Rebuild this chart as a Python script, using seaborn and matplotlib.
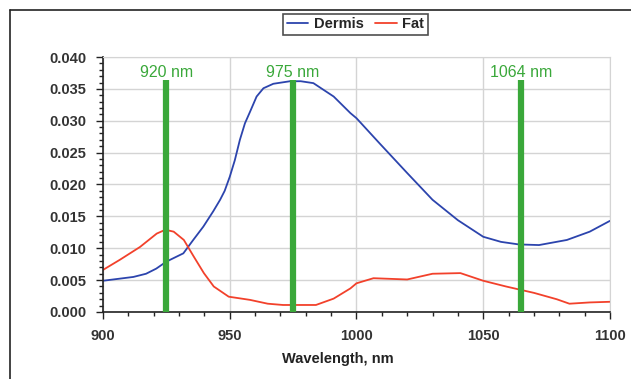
import numpy as np
import pandas as pd
import matplotlib
matplotlib.use('Agg')
import matplotlib.pyplot as plt
import seaborn as sns
from matplotlib.ticker import MultipleLocator, FormatStrFormatter
from matplotlib.lines import Line2D

# Dermis absorption curve
dermis_nm = [900, 906, 912, 917, 921, 925, 931.7, 935.6, 939.6, 943.5, 946.2, 948, 950, 952,
             954, 956, 958, 960.6, 963.3, 967.2, 973.8, 978, 983, 991, 997.6, 1000, 1009, 1020,
             1030, 1040, 1050, 1057, 1064, 1072, 1083, 1092, 1100]
dermis_val = [0.0049, 0.0052, 0.0055, 0.0060, 0.0068, 0.0079, 0.0092, 0.0113, 0.0134, 0.0158,
              0.0176, 0.0190, 0.0212, 0.0238, 0.0270, 0.0296, 0.0314, 0.0338, 0.0351, 0.0358,
              0.0362, 0.0362, 0.0359, 0.0338, 0.0312, 0.0304, 0.0265, 0.0218, 0.0176, 0.0144,
              0.0118, 0.0110, 0.0106, 0.0105, 0.0113, 0.0126, 0.0143]

# Fat absorption curve
fat_nm = [900, 906.7, 914.6, 921.2, 924.6, 927.9, 931.9, 935.8, 939.8, 943.7, 949.6, 958, 965,
          971, 978, 984, 991, 997.6, 1000, 1006.7, 1020, 1030, 1041, 1050, 1059, 1070, 1079,
          1084, 1092, 1100]
fat_val = [0.0066, 0.0082, 0.0102, 0.0123, 0.0129, 0.0126, 0.0113, 0.0087, 0.0061, 0.0040,
           0.0024, 0.0019, 0.0013, 0.0011, 0.0011, 0.0011, 0.0021, 0.0037, 0.0045, 0.0053,
           0.0051, 0.0060, 0.0061, 0.0049, 0.0040, 0.0030, 0.0020, 0.0013, 0.0015, 0.0016]

# laser wavelength markers
laser_pos = [925, 975, 1065]
laser_labels = ['920 nm', '975 nm', '1064 nm']
laser_top = 0.0364

df = pd.concat([
    pd.DataFrame({'Wavelength': dermis_nm, 'Value': dermis_val, 'Tissue': 'Dermis'}),
    pd.DataFrame({'Wavelength': fat_nm, 'Value': fat_val, 'Tissue': 'Fat'}),
])

blue = '#2c44ad'
red = '#f2412b'
green = '#3aa83a'

sns.set_style('white')
plt.rcParams['font.family'] = ['Liberation Sans', 'DejaVu Sans']

fig = plt.figure(figsize=(6.31, 3.79), dpi=100)
ax = fig.add_axes([0.1632, 0.1768, 0.8035, 0.6728])

ax.vlines(laser_pos, 0, laser_top, color=green, lw=4.5, zorder=3)
for xp, lab in zip(laser_pos, laser_labels):
    ax.text(xp, 0.0376, lab, color=green, fontsize=11.5, ha='center', va='center', zorder=4)

sns.lineplot(data=df, x='Wavelength', y='Value', hue='Tissue',
             palette={'Dermis': blue, 'Fat': red}, lw=1.3, ax=ax, legend=False, zorder=2)

ax.set_xlim(900, 1100)
ax.set_ylim(0, 0.040)
ax.xaxis.set_major_locator(MultipleLocator(50))
ax.xaxis.set_minor_locator(MultipleLocator(10))
ax.yaxis.set_major_locator(MultipleLocator(0.005))
ax.yaxis.set_minor_locator(MultipleLocator(0.001))
ax.yaxis.set_major_formatter(FormatStrFormatter('%.3f'))
ax.grid(True, which='major', color='#d4d4d4', lw=1, zorder=0)
ax.set_axisbelow(True)

ax.tick_params(which='major', direction='out', length=5, width=1, color='#222',
               labelsize=10.5, labelcolor='#333', bottom=True, left=True, pad=7)
ax.tick_params(which='minor', direction='out', length=3, width=1, color='#222',
               bottom=True, left=True)
for lbl in ax.get_xticklabels() + ax.get_yticklabels():
    lbl.set_fontweight('bold')

for s in ['top', 'right']:
    ax.spines[s].set_color('#d4d4d4')
for s in ['left', 'bottom']:
    ax.spines[s].set_color('#222')
    ax.spines[s].set_linewidth(1.2)

ax.set_xlabel('Wavelength, nm', fontsize=10.5, fontweight='bold', color='#222')
ax.xaxis.set_label_coords(0.4635, -0.155)
ax.set_ylabel('')

handles = [Line2D([], [], color=blue, lw=1.3), Line2D([], [], color=red, lw=1.3)]
leg = fig.legend(handles, ['Dermis', 'Fat'], loc='upper center', bbox_to_anchor=(0.563, 0.975),
                 ncol=2, frameon=True, fancybox=False, handlelength=1.5,
                 columnspacing=0.8, handletextpad=0.35, borderpad=0.25, borderaxespad=0.3,
                 prop={'weight': 'bold', 'size': 10.5})
leg.get_frame().set_edgecolor('#222')
leg.get_frame().set_linewidth(1.2)

# outer frame
fig.add_artist(Line2D([10 / 631, 10 / 631], [0, 1 - 10 / 379], color='#222', lw=1.2))
fig.add_artist(Line2D([10 / 631, 1], [1 - 10 / 379, 1 - 10 / 379], color='#222', lw=1.2))

fig.savefig('out.png', dpi=100)
